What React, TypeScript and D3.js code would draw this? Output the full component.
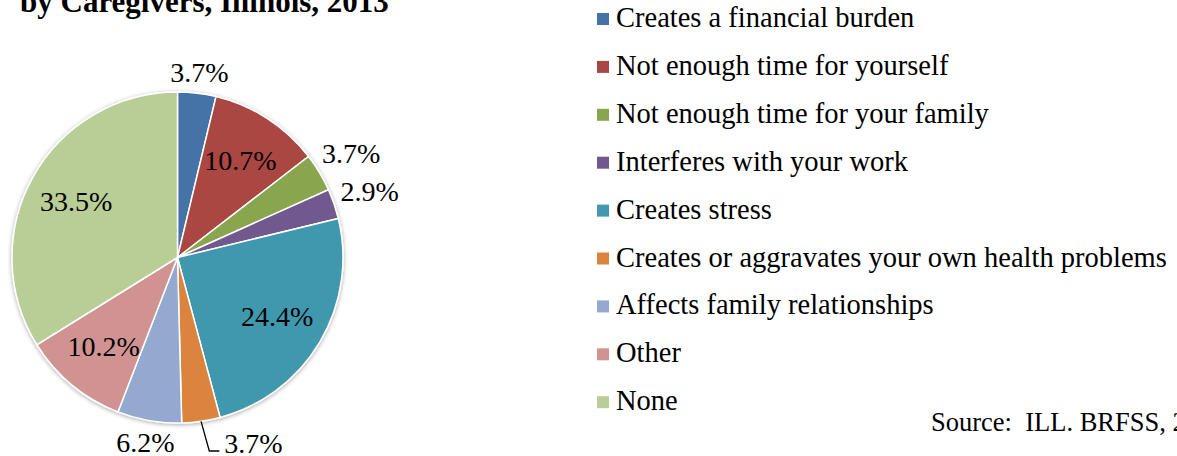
import React from "react";
import * as d3 from "d3";

const categories = [
  "Creates a financial burden",
  "Not enough time for yourself",
  "Not enough time for your family",
  "Interferes with your work",
  "Creates stress",
  "Creates or aggravates your own health problems",
  "Affects family relationships",
  "Other",
  "None",
];
const values = [3.7, 10.7, 3.7, 2.9, 24.4, 3.7, 6.2, 10.2, 33.5];
const colors = [
  "#4572A7",
  "#AA4643",
  "#89A54E",
  "#71588F",
  "#4198AF",
  "#DB843D",
  "#93A9CF",
  "#D19392",
  "#B9CD96",
];
// label placement: "in" = inside slice, "out" = just outside, "leader" = pulled out with a leader line
const labelModes = ["out", "in", "out", "out", "in", "leader", "out", "in", "in"];
const titleText = "by Caregivers, Illinois, 2013";
const sourceText = "Source:  ILL. BRFSS, 2013";

const W = 1177;
const H = 456;
const cx = 177.5;
const cy = 257.5;
const R = 165.5;
const FONT = "'Liberation Serif', 'Times New Roman', serif";

export default function App() {
  const pie = d3
    .pie<number>()
    .sort(null)
    .value((d) => d)
    .startAngle(0)
    .endAngle(2 * Math.PI);
  const arcs = pie(values);
  const arc = d3.arc<d3.PieArcDatum<number>>().innerRadius(0).outerRadius(R);
  const polar = (a: number, r: number) => [r * Math.sin(a), -r * Math.cos(a)];
  const fmt = d3.format(".1f");

  const labelFont = 28;
  const halfW = 28;
  const halfH = 9.5;

  const legendY = d3.scaleLinear().domain([0, 1]).range([27, 27 + 47.9]);

  return (
    <svg
      width={W}
      height={H}
      style={{ position: "absolute", left: 0, top: 0 }}
      fontFamily={FONT}
    >
      <defs>
        <filter id="sh" x="-10%" y="-10%" width="120%" height="120%">
          <feDropShadow dx="0" dy="1" stdDeviation="2" floodColor="#000" floodOpacity="0.35" />
        </filter>
      </defs>
      <rect width={W} height={H} fill="#fff" />
      <text x={20} y={12} fontSize={31} fontWeight="bold" fill="#000">
        {titleText}
      </text>
      <g transform={`translate(${cx},${cy})`}>
        <g filter="url(#sh)">
          {arcs.map((a, i) => (
            <path key={i} d={arc(a) || ""} fill={colors[i]} stroke="#fff" strokeWidth={1.5} />
          ))}
        </g>
        {arcs.map((a, i) => {
          const mid = (a.startAngle + a.endAngle) / 2;
          const label = fmt(a.data) + "%";
          const mode = labelModes[i];
          if (mode === "in") {
            const [x, y] = polar(mid, R * 0.7);
            return (
              <text key={i} x={x} y={y + halfH} textAnchor="middle" fontSize={labelFont} fill="#000">
                {label}
              </text>
            );
          }
          if (mode === "out") {
            const ext = Math.abs(Math.sin(mid)) * halfW + Math.abs(Math.cos(mid)) * halfH;
            const [x, y] = polar(mid, R + ext + 8);
            return (
              <text key={i} x={x} y={y + halfH} textAnchor="middle" fontSize={labelFont} fill="#000">
                {label}
              </text>
            );
          }
          const [sx, sy] = polar(mid, R);
          const [ex0, ey] = polar(mid, R + 30);
          const ex = ex0 + 4;
          const tx = ex + 10;
          return (
            <g key={i}>
              <path
                d={`M${sx},${sy}L${ex},${ey}L${tx},${ey}`}
                fill="none"
                stroke="#000"
                strokeWidth={1.3}
              />
              <text x={tx + 5} y={ey + 2} fontSize={labelFont} fill="#000">
                {label}
              </text>
            </g>
          );
        })}
      </g>
      <g>
        {categories.map((c, i) => {
          const y = legendY(i);
          return (
            <g key={c}>
              <rect x={597} y={y - 14} width={12} height={12} fill={colors[i]} />
              <text x={616} y={y} fontSize={28.5} fill="#000">
                {c}
              </text>
            </g>
          );
        })}
      </g>
      <text x={931} y={431} fontSize={26.5} fill="#000" style={{ whiteSpace: "pre" }}>
        {sourceText}
      </text>
    </svg>
  );
}
